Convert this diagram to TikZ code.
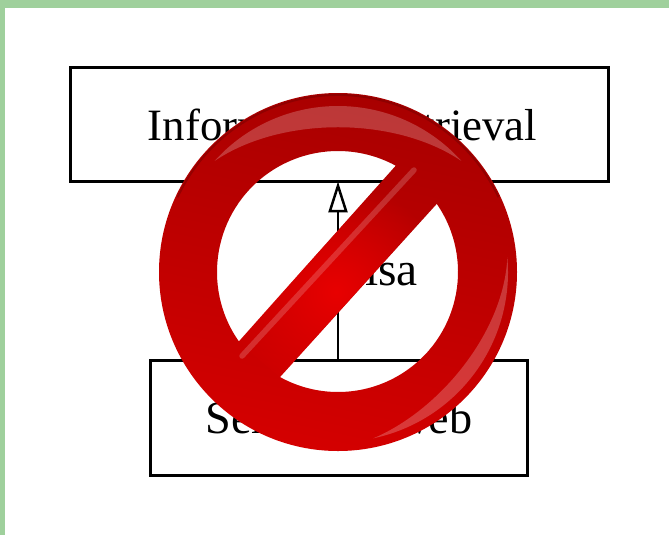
\documentclass[tikz,border=0pt]{standalone}
\usepackage{fontspec}
\setmainfont{Liberation Serif}
\usetikzlibrary{arrows.meta,positioning,calc,fadings}
\definecolor{framegreen}{HTML}{9FD09C}
\definecolor{signdark}{HTML}{A80000}
\definecolor{signmid}{HTML}{CC0000}
\definecolor{signlow}{HTML}{D40000}
\definecolor{signglow}{HTML}{E80000}
\tikzfading[name=glowfade, inner color=transparent!0, outer color=transparent!100]
\tikzset{
  box/.style    = {rectangle, draw, line width=0.06cm, fill=white, align=center,
                   font=\fontsize{25.5}{30}\selectfont, minimum height=2.3cm},
  isaflow/.style = {-{Triangle[open,fill=white,length=0.62cm,width=0.38cm]}, line width=0.05cm},
  shine/.style  = {white, opacity=0.22},
}
\begin{document}
\begin{tikzpicture}[x=0.02cm,y=-0.02cm]
    \useasboundingbox (0,0) rectangle (669,535);
    % frame
    \fill[white] (0,0) rectangle (669,535);
    \fill[framegreen] (0,0) rectangle (669,8);
    \fill[framegreen] (0,0) rectangle (5,535);
    % nodes
    \node[box,minimum width=10.78cm] (retrieval) at (339.5,124.5) {\hspace{0.12cm}Information Retrieval};
    \node[box,minimum width=7.56cm,font=\fontsize{26.3}{30}\selectfont] (surface) at (339,417.5) {Semantic Web};
    % edges
    \draw[isaflow] (surface.north -| 338,0) -- node[right=0.4cm,font=\fontsize{27}{30}\selectfont] (isa) {isa} ($(retrieval.south -| 338,0)+(0,-2)$);
    % sign over everything
    \coordinate (sign) at (338,272);
    \shade[even odd rule,top color=signdark,middle color=signmid,bottom color=signlow,shading angle=-12]
      (sign) circle[radius=179]
      ($(sign)+(145:121)$) arc[start angle=145,end angle=298.5,radius=121] -- cycle
      ($(sign)+(-34.6:120)$) arc[start angle=-34.6,end angle=118.9,radius=120] -- cycle;
    \begin{scope}
      \clip (238,342) -- (395,167) -- (435,205) -- (280,377) -- cycle;
      \fill[signglow,path fading=glowfade] (336,292) circle[radius=110];
    \end{scope}
    \draw[signdark!70!black,opacity=0.5,line width=0.04cm] ($(sign)+(205:177)$) arc[start angle=205,end angle=335,radius=177];
    % highlights
    \fill[shine] ($(sign)+(222:166)$) arc[start angle=222,end angle=318,radius=166]
      .. controls (395,116) and (281,116) .. cycle;
    \fill[shine] ($(sign)+(-5:170)$) arc[start angle=-5,end angle=78,radius=170]
      .. controls (440,410) and (504,332) .. cycle;
    \draw[white,opacity=0.18,line width=0.11cm,line cap=round] (242,356) -- (414,170);
\end{tikzpicture}
\end{document}
